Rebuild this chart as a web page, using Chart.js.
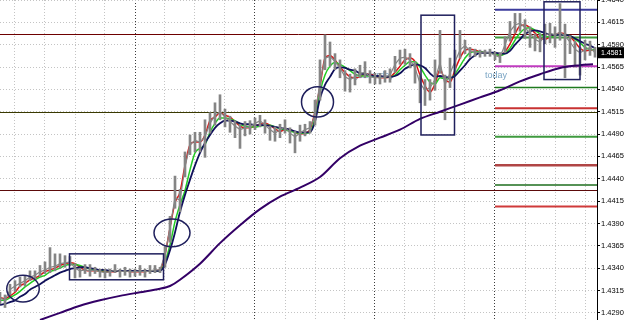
<!DOCTYPE html>
<html>
<head>
<meta charset="utf-8">
<script src="https://cdn.jsdelivr.net/npm/chart.js@4.4.0/dist/chart.umd.min.js"></script>
<style>
html, body { margin: 0; padding: 0; background: #fff; }
#wrap { width: 625px; height: 320px; }
</style>
</head>
<body>
<div id="wrap"><canvas id="chart" width="625" height="320"></canvas></div>
<script>
// bar index = one sample every few minutes
const closes = [1.4307,1.4304,1.4316,1.4320,1.4323,1.4326,1.4330,1.4332,1.4336,1.4338,
  1.4341,1.4342,1.4345,1.4346,1.4347,1.4340,1.4337,1.4338,1.4337,1.4338,
  1.4336,1.4335,1.4336,1.4338,1.4336,1.4337,1.4336,1.4336,1.4337,1.4336,
  1.4337,1.4338,1.4338,1.4355,1.4385,1.4419,1.4416,1.4453,1.4478,1.4483,
  1.4481,1.4487,1.4502,1.4511,1.4515,1.4509,1.4504,1.4499,1.4495,1.4497,
  1.4498,1.4502,1.4505,1.4500,1.4495,1.4491,1.4495,1.4498,1.4491,1.4487,
  1.4491,1.4495,1.4497,1.4511,1.4548,1.4575,1.4577,1.4571,1.4564,1.4554,
  1.4551,1.4554,1.4558,1.4559,1.4554,1.4553,1.4553,1.4554,1.4556,1.4568,
  1.4575,1.4576,1.4573,1.4564,1.4547,1.4539,1.4542,1.4551,1.4570,1.4545,
  1.4558,1.4571,1.4584,1.4589,1.4583,1.4582,1.4581,1.4581,1.4581,1.4578,
  1.4576,1.4590,1.4605,1.4612,1.4614,1.4609,1.4603,1.4596,1.4593,1.4600,
  1.4603,1.4601,1.4604,1.4600,1.4593,1.4585,1.4581,1.4584,1.4587,1.4581];
const highs = [1.4313,1.4310,1.4322,1.4326,1.4330,1.4331,1.4337,1.4337,1.4343,1.4347,
  1.4363,1.4356,1.4356,1.4354,1.4353,1.4345,1.4340,1.4344,1.4344,1.4341,
  1.4339,1.4339,1.4339,1.4344,1.4339,1.4341,1.4339,1.4339,1.4343,1.4339,
  1.4343,1.4343,1.4341,1.4364,1.4398,1.4443,1.4428,1.4470,1.4489,1.4492,
  1.4492,1.4506,1.4514,1.4525,1.4534,1.4518,1.4510,1.4505,1.4501,1.4504,
  1.4505,1.4508,1.4511,1.4506,1.4499,1.4498,1.4501,1.4506,1.4497,1.4493,
  1.4500,1.4501,1.4504,1.4528,1.4573,1.4601,1.4593,1.4580,1.4573,1.4561,
  1.4557,1.4563,1.4567,1.4571,1.4561,1.4558,1.4558,1.4561,1.4563,1.4577,
  1.4584,1.4585,1.4580,1.4571,1.4556,1.4551,1.4551,1.4573,1.4606,1.4556,
  1.4575,1.4584,1.4606,1.4595,1.4587,1.4585,1.4584,1.4584,1.4585,1.4582,
  1.4581,1.4599,1.4616,1.4625,1.4625,1.4618,1.4610,1.4602,1.4602,1.4613,
  1.4614,1.4610,1.4636,1.4613,1.4600,1.4594,1.4587,1.4595,1.4594,1.4587];
const lows = [1.4300,1.4296,1.4310,1.4314,1.4319,1.4320,1.4326,1.4327,1.4331,1.4334,
  1.4335,1.4337,1.4340,1.4341,1.4343,1.4329,1.4330,1.4334,1.4331,1.4334,
  1.4330,1.4329,1.4331,1.4335,1.4330,1.4332,1.4330,1.4331,1.4332,1.4330,
  1.4334,1.4335,1.4335,1.4341,1.4369,1.4407,1.4403,1.4442,1.4467,1.4470,
  1.4470,1.4464,1.4491,1.4500,1.4506,1.4498,1.4492,1.4486,1.4474,1.4488,
  1.4490,1.4495,1.4498,1.4491,1.4483,1.4482,1.4486,1.4491,1.4480,1.4469,
  1.4482,1.4488,1.4491,1.4500,1.4528,1.4562,1.4566,1.4562,1.4553,1.4538,
  1.4537,1.4545,1.4553,1.4553,1.4547,1.4546,1.4546,1.4548,1.4548,1.4559,
  1.4568,1.4568,1.4564,1.4547,1.4525,1.4522,1.4528,1.4539,1.4558,1.4506,
  1.4542,1.4559,1.4575,1.4580,1.4576,1.4577,1.4576,1.4577,1.4577,1.4573,
  1.4570,1.4581,1.4594,1.4603,1.4605,1.4597,1.4587,1.4583,1.4582,1.4591,
  1.4592,1.4587,1.4595,1.4553,1.4580,1.4565,1.4556,1.4573,1.4578,1.4576];
const maFast = [1.4307,1.4306,1.4309,1.4313,1.4320,1.4323,1.4327,1.4329,1.4332,1.4336,
  1.4338,1.4340,1.4343,1.4345,1.4346,1.4345,1.4341,1.4338,1.4337,1.4337,
  1.4337,1.4336,1.4336,1.4336,1.4337,1.4337,1.4336,1.4336,1.4336,1.4336,
  1.4337,1.4337,1.4338,1.4355,1.4385,1.4413,1.4425,1.4455,1.4478,1.4481,
  1.4481,1.4489,1.4505,1.4509,1.4514,1.4511,1.4509,1.4504,1.4499,1.4497,
  1.4497,1.4499,1.4501,1.4502,1.4500,1.4496,1.4493,1.4495,1.4495,1.4492,
  1.4490,1.4491,1.4495,1.4515,1.4543,1.4575,1.4578,1.4573,1.4565,1.4559,
  1.4554,1.4553,1.4554,1.4557,1.4557,1.4555,1.4553,1.4553,1.4554,1.4559,
  1.4566,1.4573,1.4575,1.4571,1.4556,1.4544,1.4537,1.4546,1.4562,1.4551,
  1.4548,1.4562,1.4575,1.4584,1.4585,1.4584,1.4582,1.4581,1.4581,1.4580,
  1.4578,1.4582,1.4591,1.4602,1.4611,1.4612,1.4609,1.4603,1.4597,1.4596,
  1.4599,1.4601,1.4603,1.4602,1.4599,1.4593,1.4586,1.4583,1.4584,1.4584];
const maMid = [1.4304,1.4304,1.4307,1.4310,1.4314,1.4319,1.4323,1.4327,1.4330,1.4332,
  1.4336,1.4338,1.4340,1.4343,1.4344,1.4344,1.4343,1.4341,1.4339,1.4338,
  1.4337,1.4337,1.4337,1.4337,1.4337,1.4337,1.4337,1.4337,1.4337,1.4337,
  1.4337,1.4337,1.4337,1.4347,1.4366,1.4392,1.4411,1.4427,1.4450,1.4469,
  1.4474,1.4478,1.4492,1.4502,1.4508,1.4508,1.4507,1.4505,1.4501,1.4499,
  1.4498,1.4498,1.4499,1.4500,1.4500,1.4498,1.4496,1.4495,1.4493,1.4492,
  1.4491,1.4491,1.4492,1.4508,1.4537,1.4556,1.4566,1.4570,1.4568,1.4565,
  1.4561,1.4557,1.4555,1.4555,1.4555,1.4555,1.4554,1.4554,1.4554,1.4556,
  1.4562,1.4567,1.4571,1.4571,1.4565,1.4556,1.4548,1.4546,1.4553,1.4552,
  1.4552,1.4557,1.4566,1.4575,1.4581,1.4582,1.4582,1.4581,1.4581,1.4580,
  1.4578,1.4580,1.4586,1.4595,1.4603,1.4608,1.4609,1.4606,1.4602,1.4599,
  1.4599,1.4600,1.4601,1.4601,1.4600,1.4596,1.4592,1.4587,1.4585,1.4584];
const maSlow = [1.4299,1.4300,1.4302,1.4304,1.4308,1.4311,1.4316,1.4319,1.4322,1.4326,
  1.4329,1.4332,1.4335,1.4337,1.4339,1.4340,1.4341,1.4341,1.4340,1.4339,
  1.4338,1.4338,1.4337,1.4337,1.4337,1.4337,1.4337,1.4337,1.4337,1.4337,
  1.4337,1.4337,1.4337,1.4344,1.4360,1.4380,1.4403,1.4422,1.4439,1.4455,
  1.4469,1.4480,1.4489,1.4497,1.4502,1.4505,1.4505,1.4504,1.4502,1.4501,
  1.4501,1.4500,1.4500,1.4500,1.4499,1.4498,1.4497,1.4496,1.4495,1.4493,
  1.4492,1.4492,1.4492,1.4504,1.4530,1.4545,1.4554,1.4563,1.4565,1.4564,
  1.4562,1.4561,1.4558,1.4557,1.4556,1.4555,1.4555,1.4554,1.4554,1.4555,
  1.4558,1.4563,1.4566,1.4568,1.4567,1.4564,1.4558,1.4554,1.4555,1.4554,
  1.4553,1.4555,1.4561,1.4567,1.4574,1.4578,1.4581,1.4581,1.4581,1.4581,
  1.4580,1.4580,1.4583,1.4590,1.4596,1.4602,1.4605,1.4606,1.4605,1.4603,
  1.4601,1.4601,1.4601,1.4601,1.4600,1.4597,1.4594,1.4591,1.4589,1.4586];
// long moving average, read every 4 bars
const longMaBars = [8,12,16,20,24,28,32,34,36,40,44,48,52,56,60,64,68,72,76,80,84,88,92,96,100,104,108,112,116,118.6];
const longMa = [1.4282,1.4290,1.4298,1.4304,1.4309,1.4313,1.4317,1.4320,1.4327,1.4345,
  1.4368,1.4388,1.4406,1.4420,1.4430,1.4442,1.4463,1.4477,1.4486,1.4495,
  1.4507,1.4515,1.4523,1.4531,1.4539,1.4549,1.4557,1.4564,1.4567,1.4568];

const yTicks = [1.4290,1.4315,1.4340,1.4365,1.4390,1.4415,1.4440,1.4465,1.4490,1.4515,1.4540,1.4565,1.4590,1.4615,1.4640];
const gridBars = [3,9,15,21,27,33,39,45,51,57,63,69,75,81,87,93,99,105,111,117];
const sessionBars = [27,51,75,99];
const levels = [1.4602, 1.4515, 1.4427];
const pivots = [1.4629, 1.4598, 1.4566, 1.4542, 1.4519, 1.4487, 1.4455, 1.4433, 1.4409];
const pivotStart = 99;
// [fromBar, toBar, low, high]
const boxes = [[13.9, 32.7, 1.4327, 1.4356], [84.2, 90.9, 1.4489, 1.4623], [108.8, 116, 1.4551, 1.4638]];
const ellipses = [[1.35, 7.85, 1.4302, 1.4332], [30.8, 38, 1.4364, 1.4395], [60.3, 66.7, 1.4509, 1.4543]];
const notes = [['yesterday', 71, 1.4555], ['today', 97, 1.4555]];
const lastPrice = 1.4581;

const levelColors = ['#6e0000', '#3a3a00', '#5c0a0a'];
const pivotColors = ['#3b3b9c', '#3f9a3f', '#c03cc0', '#1e7a1e', '#c83232', '#3f9a3f', '#b04545', '#1e6e1e', '#d03a3a'];
const pivotWidths = [2, 2, 2, 1.5, 2, 2, 2.5, 1.5, 2];

const bars = closes.map((c, i) => i);
const pts = arr => arr.map((v, i) => ({x: bars[i], y: v}));

const overlay = {
  id: 'overlay',
  beforeDatasetsDraw(chart) {
    const {ctx, chartArea: a, scales: {x, y}} = chart;
    ctx.save();
    levels.forEach((p, i) => {
      const py = Math.round(y.getPixelForValue(p)) + 0.5;
      ctx.strokeStyle = levelColors[i];
      ctx.lineWidth = 1;
      ctx.beginPath(); ctx.moveTo(a.left, py); ctx.lineTo(a.right, py); ctx.stroke();
    });
    const x0 = x.getPixelForValue(pivotStart);
    pivots.forEach((p, i) => {
      const py = y.getPixelForValue(p);
      ctx.strokeStyle = pivotColors[i];
      ctx.lineWidth = pivotWidths[i];
      ctx.beginPath(); ctx.moveTo(x0, py); ctx.lineTo(a.right, py); ctx.stroke();
    });
    ctx.fillStyle = '#7aa4c4';
    ctx.font = '9px "Liberation Sans"';
    ctx.textBaseline = 'middle';
    notes.forEach(n => ctx.fillText(n[0], x.getPixelForValue(n[1]), y.getPixelForValue(n[2])));
    ctx.restore();
  },
  afterDatasetsDraw(chart) {
    const {ctx, chartArea: a, scales: {x, y}} = chart;
    ctx.save();
    ctx.strokeStyle = '#1f1f5c';
    ctx.lineWidth = 1.5;
    boxes.forEach(b => {
      const l = x.getPixelForValue(b[0]), r = x.getPixelForValue(b[1]);
      const t = y.getPixelForValue(b[3]), btm = y.getPixelForValue(b[2]);
      ctx.strokeRect(l, t, r - l, btm - t);
    });
    ellipses.forEach(e => {
      const l = x.getPixelForValue(e[0]), r = x.getPixelForValue(e[1]);
      const t = y.getPixelForValue(e[3]), btm = y.getPixelForValue(e[2]);
      ctx.beginPath();
      ctx.ellipse((l + r) / 2, (t + btm) / 2, (r - l) / 2, (btm - t) / 2, 0, 0, Math.PI * 2);
      ctx.stroke();
    });
    // current price tag on the axis
    const py = y.getPixelForValue(lastPrice);
    ctx.fillStyle = '#000';
    ctx.fillRect(a.right + 1, py - 5.5, 26, 11);
    ctx.fillStyle = '#fff';
    ctx.font = '7px "Liberation Sans"';
    ctx.textBaseline = 'middle';
    ctx.fillText(lastPrice.toFixed(4), a.right + 4, py);
    ctx.restore();
  }
};

const ctx = document.getElementById('chart').getContext('2d');
new Chart(ctx, {
  type: 'bar',
  data: {
    datasets: [
      {type: 'line', data: longMaBars.map((b, i) => ({x: b, y: longMa[i]})), borderColor: '#330066', borderWidth: 2, pointRadius: 0, tension: 0.3},
      {type: 'bar', data: bars.map(i => ({x: i, y: [lows[i], highs[i]]})), backgroundColor: '#858585', barThickness: 2},
      {type: 'line', data: pts(closes), borderColor: '#858585', borderWidth: 1.2, pointRadius: 0},
      {type: 'line', data: pts(maSlow), borderColor: '#10105a', borderWidth: 1.8, pointRadius: 0, cubicInterpolationMode: 'monotone'},
      {type: 'line', data: pts(maMid), borderColor: '#22cc22', borderWidth: 1.5, pointRadius: 0, cubicInterpolationMode: 'monotone'},
      {type: 'line', data: pts(maFast), borderColor: '#dd1111', borderWidth: 1.5, pointRadius: 0, cubicInterpolationMode: 'monotone'}
    ]
  },
  options: {
    responsive: false,
    animation: false,
    devicePixelRatio: 1,
    layout: {padding: 0},
    plugins: {legend: {display: false}, tooltip: {enabled: false}},
    scales: {
      x: {
        type: 'linear',
        min: 0,
        max: 119.4,
        offset: false,
        afterBuildTicks: s => { s.ticks = gridBars.map(v => ({value: v})); },
        afterFit: s => { s.height = 0; s.paddingLeft = 0; s.paddingRight = 0; },
        ticks: {display: false},
        grid: {
          offset: false,
          drawTicks: false,
          color: c => sessionBars.includes(c.tick && c.tick.value) ? '#3c3c3c' : '#c4c4c4'
        },
        border: {display: false, dash: [1, 2]}
      },
      y: {
        type: 'linear',
        position: 'right',
        min: 1.4282,
        max: 1.4640,
        afterBuildTicks: s => { s.ticks = yTicks.map(v => ({value: v})); },
        afterFit: s => { s.width = 28; s.paddingTop = 0; s.paddingBottom = 0; },
        ticks: {
          autoSkip: false,
          padding: 1,
          color: '#000',
          font: {family: 'Liberation Sans', size: 7.5},
          callback: v => Number(v).toFixed(4)
        },
        grid: {color: '#c4c4c4', tickLength: 3, tickColor: '#000', tickBorderDash: []},
        border: {display: true, color: '#000', width: 1, dash: [1, 2]}
      }
    }
  },
  plugins: [overlay]
});
</script>
</body>
</html>
